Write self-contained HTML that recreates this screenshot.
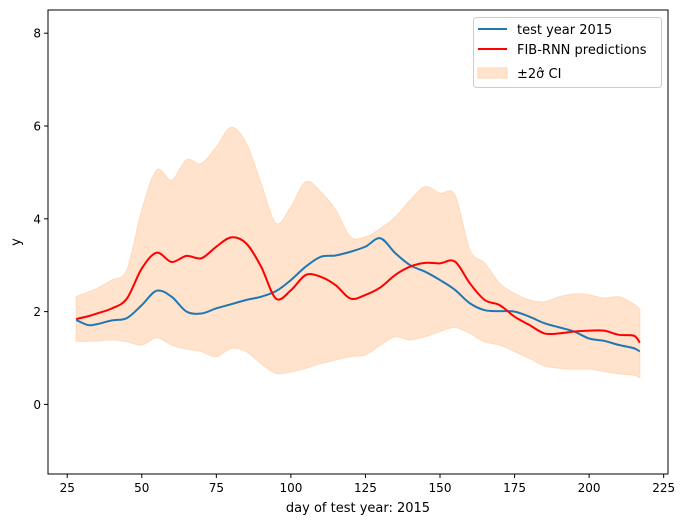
<!DOCTYPE html>
<html><head><meta charset="utf-8"><style>
html,body{margin:0;padding:0;background:#fff;}
svg{display:block;font-family:"DejaVu Sans","Liberation Sans",sans-serif;}
</style></head><body>
<svg id="chart" width="687" height="525" viewBox="0 0 687 525">
<g id="band"></g>
<g id="lines"></g>
<rect x="48" y="10" width="620" height="464" fill="none" stroke="#000" stroke-width="1"/>
<g id="xticks"></g>
<g id="yticks"></g>
<text x="358" y="512" font-size="13" text-anchor="middle">day of test year: 2015</text>
<text x="20" y="242" font-size="13" text-anchor="middle" transform="rotate(-90 20 242)">y</text>
<g>
<rect x="473.5" y="17.5" width="188" height="70" rx="3" fill="#fff" fill-opacity="0.8" stroke="#ccc"/>
<line x1="478" y1="29" x2="507" y2="29" stroke="#1f77b4" stroke-width="2"/>
<text x="517" y="34" font-size="13">test year 2015</text>
<line x1="478" y1="49" x2="507" y2="49" stroke="#ff0000" stroke-width="2"/>
<text x="517" y="54" font-size="13">FIB-RNN predictions</text>
<rect x="478" y="68" width="29" height="10" fill="#ffe3cc" stroke="#ffd6b5"/>
<text x="517" y="78" font-size="13">±2σ̂ CI</text>
</g>
</svg>
<script>
const days=[28,32,35,40,45,50,55,60,65,70,75,80,85,90,95,100,105,110,115,120,125,130,135,140,145,150,155,160,165,170,175,180,185,190,195,200,205,210,215,217];
const testYear=[1.82,1.71,1.73,1.81,1.86,2.14,2.45,2.32,2.0,1.96,2.07,2.16,2.25,2.32,2.44,2.68,2.97,3.18,3.21,3.29,3.40,3.58,3.26,3.00,2.86,2.68,2.47,2.18,2.03,2.01,2.0,1.89,1.75,1.66,1.57,1.42,1.37,1.28,1.21,1.14];
const predictions=[1.84,1.9,1.96,2.07,2.28,2.93,3.27,3.07,3.20,3.15,3.40,3.60,3.47,2.97,2.28,2.46,2.79,2.75,2.57,2.28,2.36,2.52,2.79,2.97,3.05,3.04,3.08,2.61,2.25,2.14,1.89,1.71,1.53,1.53,1.57,1.59,1.59,1.50,1.48,1.33];
const upper=[2.32,2.42,2.50,2.68,2.90,4.19,5.05,4.83,5.27,5.19,5.55,5.97,5.63,4.76,3.90,4.26,4.80,4.58,4.19,3.61,3.61,3.79,4.04,4.40,4.69,4.55,4.51,3.33,3.04,2.61,2.39,2.25,2.21,2.32,2.38,2.36,2.29,2.32,2.16,2.05];
const lower=[1.36,1.36,1.37,1.39,1.35,1.28,1.44,1.28,1.19,1.14,1.03,1.21,1.14,0.88,0.67,0.70,0.78,0.88,0.96,1.03,1.07,1.28,1.46,1.39,1.46,1.57,1.66,1.53,1.35,1.28,1.14,0.99,0.83,0.78,0.76,0.76,0.71,0.66,0.63,0.58];
const xTicks=[25,50,75,100,125,150,175,200,225];
const yTicks=[0,2,4,6,8];

const X0=18.55,X1=226.45,Y0=-1.5,Y1=8.5,L=48,R=668,T=10,B=474;
const sx=d=>L+(d-X0)/(X1-X0)*(R-L);
const sy=v=>B-(v-Y0)/(Y1-Y0)*(B-T);
const NS='http://www.w3.org/2000/svg';
function smooth(pts,move){
  let s=move?`M${pts[0][0]},${pts[0][1]}`:`L${pts[0][0]},${pts[0][1]}`;
  for(let i=0;i<pts.length-1;i++){
    const p0=pts[i-1]||pts[i],p1=pts[i],p2=pts[i+1],p3=pts[i+2]||p2;
    s+=`C${p1[0]+(p2[0]-p0[0])/6},${p1[1]+(p2[1]-p0[1])/6} ${p2[0]-(p3[0]-p1[0])/6},${p2[1]-(p3[1]-p1[1])/6} ${p2[0]},${p2[1]}`;
  }
  return s;
}
const up=days.map((d,i)=>[sx(d),sy(upper[i])]);
const lo=days.map((d,i)=>[sx(d),sy(lower[i])]).reverse();
const band=document.createElementNS(NS,'path');
band.setAttribute('d',smooth(up,true)+smooth(lo,false)+'Z');
band.setAttribute('fill','#ffe3cc');band.setAttribute('stroke','#ffd9bb');


document.getElementById('band').appendChild(band);
function line(vals,color,name){
  const p=document.createElementNS(NS,'path');
  p.setAttribute('d',smooth(days.map((d,i)=>[sx(d),sy(vals[i])]),true));
  p.setAttribute('fill','none');p.setAttribute('stroke',color);p.setAttribute('stroke-width','2');
  
  
  document.getElementById('lines').appendChild(p);
}
line(testYear,'#1f77b4','test-year-line');
line(predictions,'#ff0000','prediction-line');
const xg=document.getElementById('xticks');
xTicks.forEach(t=>{
  const x=sx(t);
  const l=document.createElementNS(NS,'line');
  l.setAttribute('x1',x);l.setAttribute('x2',x);l.setAttribute('y1',B);l.setAttribute('y2',B+4);l.setAttribute('stroke','#000');
  
  
  xg.appendChild(l);
  const tx=document.createElementNS(NS,'text');
  tx.setAttribute('x',x);tx.setAttribute('y',B+18);tx.setAttribute('font-size','12');tx.setAttribute('text-anchor','middle');
  tx.textContent=t;
  
  
  xg.appendChild(tx);
});
const yg=document.getElementById('yticks');
yTicks.forEach(t=>{
  const y=sy(t);
  const l=document.createElementNS(NS,'line');
  l.setAttribute('x1',L-4);l.setAttribute('x2',L);l.setAttribute('y1',y);l.setAttribute('y2',y);l.setAttribute('stroke','#000');
  
  
  yg.appendChild(l);
  const tx=document.createElementNS(NS,'text');
  tx.setAttribute('x',L-7);tx.setAttribute('y',y+4.5);tx.setAttribute('font-size','12');tx.setAttribute('text-anchor','end');
  tx.textContent=t;
  
  
  yg.appendChild(tx);
});
</script>
</body></html>
